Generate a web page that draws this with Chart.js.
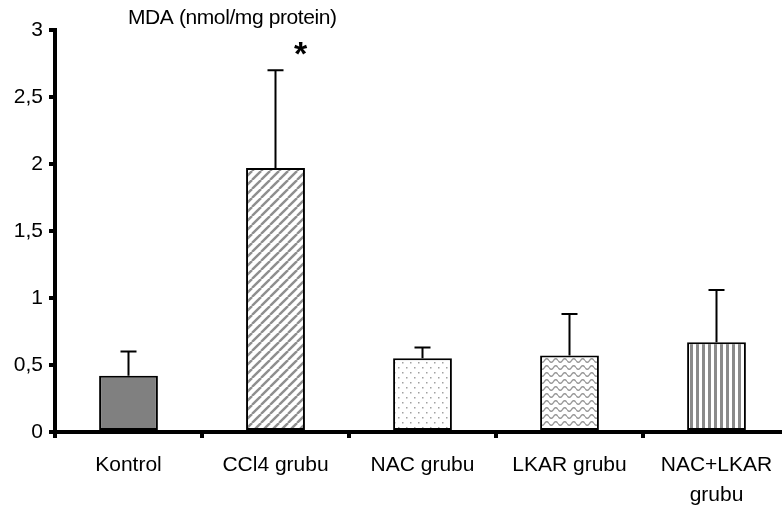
<!DOCTYPE html>
<html>
<head>
<meta charset="utf-8">
<script src="https://cdn.jsdelivr.net/npm/chart.js@4.4.0/dist/chart.umd.min.js"></script>
<style>
  html, body { margin: 0; padding: 0; background: #fff; overflow: hidden; }
  #wrap { width: 800px; height: 509px; }
</style>
</head>
<body>
<div id="wrap"><canvas id="mdaChart"></canvas></div>
<script>
// ------------------- DATA -------------------
const groups = ["Kontrol", "CCl4 grubu", "NAC grubu", "LKAR grubu", ["NAC+LKAR", "grubu"]];
const mdaMean = [0.42, 1.97, 0.55, 0.57, 0.67];
const mdaUpper = [0.60, 2.70, 0.63, 0.88, 1.06];
const marks = ["", "*", "", "", ""];
const yTicks = [0, 0.5, 1, 1.5, 2, 2.5, 3];
const titleText = "MDA (nmol/mg protein)";

// ------------------- PATTERNS -------------------
function tile(w, h, draw) {
  const c = document.createElement("canvas");
  c.width = w; c.height = h;
  const g = c.getContext("2d");
  g.fillStyle = "#fff";
  g.fillRect(0, 0, w, h);
  draw(g, w, h);
  return g.createPattern(c, "repeat");
}

const solidGray = "#808080";

const diag = tile(9, 9, (g, w, h) => {
  g.strokeStyle = "#8e8e8e";
  g.lineWidth = 2.4;
  [-w, 0, w].forEach(o => {
    g.beginPath();
    g.moveTo(o, h);
    g.lineTo(o + w, 0);
    g.stroke();
  });
});

const dots = tile(8, 10, (g) => {
  g.fillStyle = "#a0a0a0";
  g.fillRect(2, 2, 1.5, 1.5);
  g.fillRect(6, 7, 1.5, 1.5);
});

const wave = tile(9, 7, (g, w, h) => {
  g.strokeStyle = "#999";
  g.lineWidth = 1.4;
  g.beginPath();
  for (let x = 0; x <= w; x += 0.5) {
    const y = 3.5 + 1.8 * Math.sin((x / w) * Math.PI * 2);
    if (x === 0) g.moveTo(x, y); else g.lineTo(x, y);
  }
  g.stroke();
});

const vstripe = tile(6, 6, (g) => {
  g.fillStyle = "#8a8a8a";
  g.fillRect(0, 0, 3, 6);
});

const fills = [solidGray, diag, dots, wave, vstripe];

// ------------------- PLUGINS -------------------
const errorBars = {
  id: "errorBars",
  afterDatasetsDraw(chart) {
    const ctx = chart.ctx;
    const meta = chart.getDatasetMeta(0);
    const y = chart.scales.y;
    ctx.save();
    ctx.strokeStyle = "#000";
    ctx.lineWidth = 2;
    meta.data.forEach((bar, i) => {
      const top = y.getPixelForValue(mdaUpper[i]);
      ctx.beginPath();
      ctx.moveTo(bar.x, bar.y);
      ctx.lineTo(bar.x, top);
      ctx.moveTo(bar.x - 8, top);
      ctx.lineTo(bar.x + 8, top);
      ctx.stroke();
      if (marks[i]) {
        ctx.fillStyle = "#000";
        ctx.font = "bold 34px 'Liberation Sans', Arial, sans-serif";
        ctx.textAlign = "center";
        ctx.textBaseline = "middle";
        ctx.fillText(marks[i], bar.x + 25, y.getPixelForValue(2.81));
      }
    });
    ctx.restore();
  }
};

const topTitle = {
  id: "topTitle",
  afterDraw(chart) {
    const ctx = chart.ctx;
    ctx.save();
    ctx.fillStyle = "#000";
    ctx.font = "21px 'Liberation Sans', Arial, sans-serif";
    ctx.letterSpacing = "-0.4px";
    ctx.textAlign = "left";
    ctx.textBaseline = "middle";
    ctx.fillText(titleText, 128, 18);
    ctx.restore();
  }
};

// ------------------- CHART -------------------
new Chart(document.getElementById("mdaChart"), {
  type: "bar",
  data: {
    labels: groups,
    datasets: [{
      data: mdaMean,
      backgroundColor: fills,
      borderColor: "#000",
      borderWidth: 2,
      borderSkipped: false,
      categoryPercentage: 1,
      barPercentage: 0.4
    }]
  },
  options: {
    responsive: true,
    maintainAspectRatio: false,
    animation: false,
    layout: { padding: { top: 30, right: 10, left: 0, bottom: 0 } },
    plugins: {
      legend: { display: false },
      tooltip: { enabled: false }
    },
    scales: {
      x: {
        afterFit: s => { s.height = 77; },
        grid: {
          drawOnChartArea: false,
          color: "#000",
          lineWidth: 4,
          tickLength: 6,
          offset: true
        },
        border: { display: true, color: "#000", width: 4 },
        ticks: {
          color: "#000",
          padding: 12,
          maxRotation: 0,
          font: { family: "'Liberation Sans', Arial, sans-serif", size: 21, lineHeight: 1.45 }
        }
      },
      y: {
        min: 0,
        max: 3,
        afterFit: s => { s.width = 55; },
        afterBuildTicks: s => { s.ticks = yTicks.map(v => ({ value: v })); },
        grid: {
          drawOnChartArea: false,
          color: "#000",
          lineWidth: 4,
          tickLength: 6
        },
        border: { display: true, color: "#000", width: 4 },
        ticks: {
          color: "#000",
          padding: 6,
          font: { family: "'Liberation Sans', Arial, sans-serif", size: 21 },
          callback: v => String(v).replace(".", ",")
        }
      }
    }
  },
  plugins: [errorBars, topTitle]
});
</script>
</body>
</html>
